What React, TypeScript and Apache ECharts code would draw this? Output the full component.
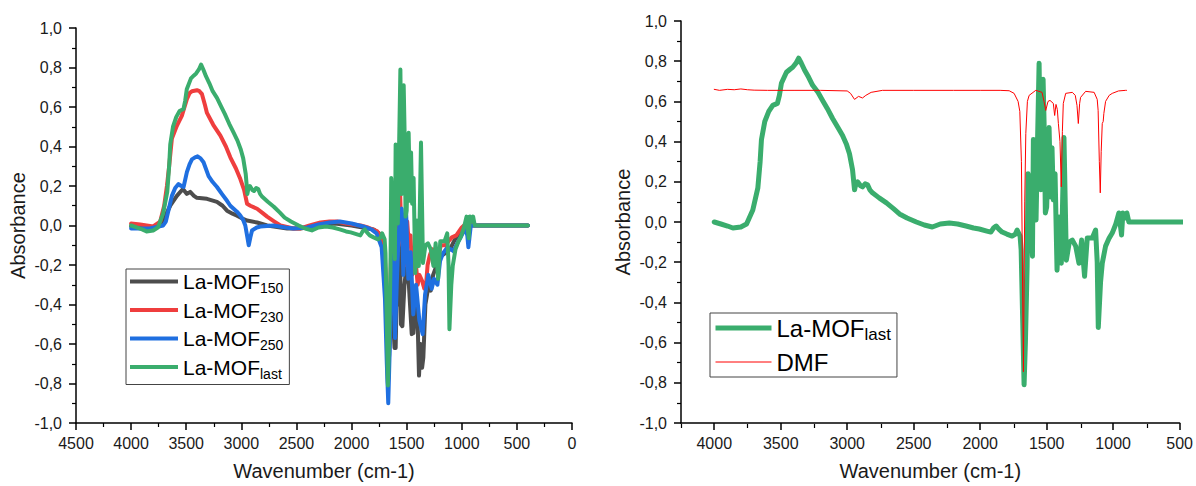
import React, { useEffect, useRef } from 'react';
import * as echarts from 'echarts';

type Pt = [number, number];

// La-MOF150 (dark grey)
const laMof150: Pt[] = [
  [4000, -0.005], [3900, -0.01], [3800, -0.01], [3740, 0.0], [3709, 0.02], [3680, 0.06], [3645, 0.1],
  [3585, 0.15], [3530, 0.185], [3494, 0.16], [3464, 0.17], [3430, 0.15], [3403, 0.14], [3312, 0.135],
  [3221, 0.12], [3170, 0.1], [3130, 0.075], [3080, 0.06], [3039, 0.05], [2990, 0.035], [2948, 0.025],
  [2857, 0.015], [2766, 0.0], [2584, -0.015], [2464, -0.015], [2300, 0.0], [2150, 0.01], [2000, 0.0],
  [1900, -0.01], [1800, -0.02], [1750, -0.04], [1720, -0.08], [1700, -0.15], [1685, -0.4], [1670, -0.8],
  [1655, -0.6], [1640, -0.3], [1625, -0.45], [1610, -0.62], [1600, -0.62], [1590, -0.35], [1570, -0.4],
  [1560, -0.1], [1552, -0.5], [1539, -0.51], [1520, -0.3], [1500, -0.2], [1480, -0.3], [1454, -0.55],
  [1439, -0.545], [1420, -0.4], [1400, -0.5], [1388, -0.76], [1375, -0.6], [1360, -0.72], [1349, -0.67],
  [1330, -0.4], [1300, -0.3], [1282, -0.33], [1260, -0.25], [1227, -0.2], [1200, -0.16], [1150, -0.14],
  [1106, -0.12], [1080, -0.09], [1061, -0.07], [1030, -0.05], [1000, -0.02], [960, 0.01], [924, 0.0],
  [900, 0.0], [400, 0.0],
];

// La-MOF230 (red)
const laMof230: Pt[] = [
  [4000, 0.01], [3918, 0.005], [3800, -0.005], [3736, 0.02], [3700, 0.1], [3675, 0.2], [3655, 0.3],
  [3630, 0.44], [3585, 0.505], [3540, 0.555], [3494, 0.64], [3470, 0.67], [3448, 0.68], [3403, 0.685],
  [3380, 0.68], [3357, 0.665], [3330, 0.61], [3312, 0.57], [3255, 0.51], [3190, 0.455], [3140, 0.4],
  [3100, 0.345], [3050, 0.29], [3009, 0.235], [2975, 0.18], [2948, 0.11], [2918, 0.1], [2857, 0.085],
  [2800, 0.06], [2766, 0.045], [2700, 0.02], [2645, 0.0], [2527, -0.015], [2464, -0.015], [2380, 0.0],
  [2282, 0.015], [2200, 0.02], [2130, 0.02], [2050, 0.01], [1918, 0.0], [1850, -0.01], [1767, -0.03],
  [1730, -0.06], [1700, -0.12], [1685, -0.35], [1668, -0.78], [1655, -0.5], [1640, -0.1], [1625, -0.3],
  [1610, -0.45], [1598, -0.3], [1585, -0.1], [1570, 0.05], [1560, 0.17], [1550, 0.0], [1540, -0.1],
  [1525, -0.05], [1510, -0.2], [1495, 0.02], [1480, -0.1], [1465, -0.05], [1450, -0.25], [1435, -0.15],
  [1420, -0.17], [1400, -0.3], [1385, -0.25], [1360, -0.28], [1340, -0.32], [1327, -0.32], [1310, -0.2],
  [1290, -0.15], [1270, -0.12], [1240, -0.13], [1210, -0.15], [1190, -0.1], [1150, -0.1], [1120, -0.08],
  [1090, -0.06], [1050, -0.05], [1000, -0.01], [960, 0.01], [940, -0.02], [920, 0.02], [890, 0.0],
  [400, 0.0],
];

// La-MOF250 (blue)
const laMof250: Pt[] = [
  [4000, -0.015], [3900, -0.015], [3827, -0.015], [3750, -0.005], [3709, 0.0], [3685, 0.02], [3664, 0.07],
  [3630, 0.15], [3600, 0.19], [3570, 0.21], [3545, 0.2], [3524, 0.195], [3494, 0.27], [3470, 0.31],
  [3448, 0.335], [3420, 0.345], [3397, 0.35], [3370, 0.34], [3343, 0.32], [3297, 0.25], [3260, 0.22],
  [3221, 0.195], [3170, 0.155], [3130, 0.125], [3100, 0.1], [3070, 0.085], [3040, 0.07], [3009, 0.05],
  [2985, 0.03], [2964, 0.0], [2945, -0.06], [2933, -0.1], [2918, -0.06], [2903, -0.025], [2860, -0.01],
  [2827, -0.005], [2709, 0.0], [2600, -0.01], [2527, -0.015], [2400, -0.01], [2300, 0.005], [2200, 0.015],
  [2106, 0.02], [2000, 0.01], [1894, -0.005], [1820, -0.02], [1773, -0.04], [1727, -0.11], [1697, -0.37],
  [1680, -0.7], [1667, -0.9], [1655, -0.65], [1645, -0.37], [1630, -0.2], [1621, -0.15], [1606, -0.57],
  [1590, -0.3], [1576, -0.09], [1560, 0.07], [1545, 0.085], [1530, -0.25], [1506, 0.085], [1485, -0.27],
  [1464, -0.135], [1440, -0.45], [1415, -0.3], [1385, -0.48], [1355, -0.55], [1333, -0.35], [1303, -0.25],
  [1273, -0.32], [1252, -0.27], [1221, -0.3], [1197, -0.18], [1170, -0.14], [1136, -0.115], [1100, -0.12],
  [1076, -0.13], [1040, -0.09], [1015, -0.065], [970, -0.015], [950, -0.05], [940, -0.11], [930, -0.06],
  [918, 0.0], [894, 0.0], [400, 0.0],
];

// La-MOF last (green) — same spectrum in both panels
const laMofLast: Pt[] = [
  [4000, 0.0], [3950, -0.01], [3900, -0.02], [3860, -0.03], [3800, -0.025], [3757, -0.01], [3710, 0.06],
  [3672, 0.17], [3655, 0.3], [3645, 0.41], [3620, 0.5], [3590, 0.55], [3560, 0.58], [3525, 0.59],
  [3510, 0.63], [3495, 0.69], [3457, 0.745], [3430, 0.76], [3410, 0.77], [3385, 0.79], [3365, 0.815],
  [3345, 0.79], [3320, 0.755], [3290, 0.72], [3260, 0.68], [3220, 0.645], [3185, 0.605], [3150, 0.565],
  [3110, 0.515], [3070, 0.47], [3035, 0.43], [3005, 0.385], [2983, 0.34], [2960, 0.26], [2945, 0.16],
  [2935, 0.19], [2922, 0.2], [2900, 0.18], [2885, 0.175], [2865, 0.19], [2847, 0.185], [2830, 0.16],
  [2810, 0.145], [2760, 0.12], [2705, 0.095], [2650, 0.065], [2607, 0.04], [2550, 0.02], [2480, 0.0],
  [2420, -0.015], [2360, -0.025], [2300, -0.01], [2232, -0.005], [2170, -0.01], [2107, -0.02],
  [2050, -0.03], [2007, -0.035], [1950, -0.045], [1920, -0.05], [1900, -0.03], [1880, -0.02],
  [1860, -0.035], [1835, -0.05], [1800, -0.06], [1760, -0.07], [1735, -0.06], [1722, -0.04],
  [1700, -0.07], [1692, -0.14], [1680, -0.5], [1670, -0.81], [1660, -0.6], [1647, -0.22], [1640, 0.24],
  [1628, 0.1], [1617, -0.02], [1607, -0.17], [1600, 0.41], [1590, 0.25], [1580, 0.01], [1570, 0.36],
  [1557, 0.79], [1545, 0.16], [1537, 0.5], [1527, 0.71], [1518, 0.45], [1510, 0.045], [1500, 0.075],
  [1482, 0.47], [1470, 0.125], [1460, 0.37], [1450, 0.11], [1437, 0.24], [1422, -0.24], [1407, 0.025],
  [1390, -0.205], [1370, 0.42], [1352, -0.19], [1330, -0.1], [1307, -0.09], [1282, -0.12],
  [1257, -0.205], [1237, -0.09], [1215, -0.27], [1195, -0.08], [1157, -0.08], [1132, -0.04],
  [1120, -0.2], [1112, -0.525], [1095, -0.3], [1082, -0.205], [1057, -0.12], [1030, -0.08],
  [1007, -0.055], [980, -0.01], [957, 0.045], [937, -0.065], [927, 0.045], [910, 0.02], [897, 0.045],
  [882, 0.0], [850, 0.0], [400, 0.0],
];

// DMF reference (thin red)
const dmf: Pt[] = [
  [4000, 0.66], [3960, 0.655], [3900, 0.66], [3850, 0.658], [3800, 0.662], [3750, 0.658], [3700, 0.656],
  [3600, 0.655], [3400, 0.655], [3200, 0.655], [3000, 0.652], [2975, 0.64], [2945, 0.61], [2915, 0.625],
  [2885, 0.617], [2860, 0.63], [2820, 0.645], [2735, 0.655], [2500, 0.655], [2200, 0.655], [2000, 0.655],
  [1850, 0.655], [1782, 0.653], [1745, 0.64], [1715, 0.6], [1702, 0.55], [1690, 0.3], [1675, -0.745],
  [1665, 0.1], [1657, 0.44], [1645, 0.6], [1632, 0.63], [1582, 0.655], [1535, 0.645], [1520, 0.6],
  [1507, 0.555], [1490, 0.6], [1475, 0.605], [1450, 0.59], [1440, 0.53], [1430, 0.585], [1420, 0.56],
  [1412, 0.49], [1400, 0.4], [1390, 0.175], [1382, 0.45], [1375, 0.59], [1357, 0.64], [1307, 0.645],
  [1285, 0.63], [1272, 0.58], [1262, 0.49], [1252, 0.59], [1245, 0.62], [1207, 0.65], [1143, 0.645],
  [1120, 0.61], [1113, 0.555], [1104, 0.3], [1097, 0.145], [1090, 0.35], [1082, 0.49], [1075, 0.5],
  [1070, 0.54], [1057, 0.6], [1030, 0.63], [1007, 0.64], [960, 0.652], [907, 0.655], [900, 0.655],
];

const yRange = { min: -1, max: 1, step: 0.2 };
const leftXRange = { min: 0, max: 4500, step: 500 };
const rightXRange = { min: 500, max: 4250 };
const rightXMajor = [4000, 3500, 3000, 2500, 2000, 1500, 1000, 500];
const rightXMinor = [4250, 3750, 3250, 2750, 2250, 1750, 1250, 750];

const legendParts: Record<string, [string, string]> = {
  'La-MOF150': ['La-MOF', '150'],
  'La-MOF230': ['La-MOF', '230'],
  'La-MOF250': ['La-MOF', '250'],
  'La-MOFlast': ['La-MOF', 'last'],
  DMF: ['DMF', ''],
};

const FONT = '"Liberation Sans", Arial, Helvetica, sans-serif';
const TXT = '#1a1a1a';
const C_BLACK = '#4d4d4d';
const C_RED = '#ef3e3e';
const C_BLUE = '#1f6fe0';
const C_GREEN = '#3aad6d';

const fmtY = (v: number) => (Math.abs(v) < 1e-9 ? '0,0' : v.toFixed(1).replace('.', ','));
const fmtX = (v: number) => String(Math.round(v));

function yAxisBase(gridIndex: number) {
  return {
    type: 'value' as const,
    gridIndex,
    min: yRange.min,
    max: yRange.max,
    interval: yRange.step,
    name: 'Absorbance',
    nameLocation: 'middle' as const,
    nameGap: 48,
    nameTextStyle: { fontSize: 20, color: TXT, fontFamily: FONT },
    axisLine: { show: true, onZero: false, lineStyle: { color: '#000', width: 1.5 } },
    axisTick: { show: true, length: 7, lineStyle: { color: '#000', width: 1.5 } },
    minorTick: { show: true, splitNumber: 2, length: 4, lineStyle: { color: '#000', width: 1.2 } },
    splitLine: { show: false },
    minorSplitLine: { show: false },
    axisLabel: { fontSize: 16, color: TXT, fontFamily: FONT, margin: 14, formatter: fmtY },
  };
}

const xNameStyle = { fontSize: 20, color: TXT, fontFamily: FONT };

function legendFormatter(name: string) {
  const p = legendParts[name] || [name, ''];
  return p[1] ? `{m|${p[0]}}{s|${p[1]}}` : `{m|${p[0]}}`;
}

export default function App() {
  const ref = useRef<HTMLDivElement>(null);
  useEffect(() => {
    if (!ref.current) return;
    const chart = echarts.init(ref.current, null, { renderer: 'svg' });
    const lineSeries = (name: string, data: Pt[], color: string, width: number, xi: number, yi: number) => ({
      type: 'line' as const,
      name,
      data,
      xAxisIndex: xi,
      yAxisIndex: yi,
      showSymbol: false,
      symbol: 'none',
      clip: true,
      lineStyle: { color, width, join: 'round', cap: 'round' },
      itemStyle: { color },
      emphasis: { disabled: true },
    });
    chart.setOption({
      animation: false,
      textStyle: { fontFamily: FONT },
      grid: [
        { left: 76, top: 28, width: 496, height: 397 },
        { left: 681, top: 21, width: 500, height: 403 },
        { left: 681, top: 21, width: 500, height: 403 },
      ],
      xAxis: [
        {
          type: 'value',
          gridIndex: 0,
          min: leftXRange.min,
          max: leftXRange.max,
          interval: leftXRange.step,
          inverse: true,
          name: 'Wavenumber (cm-1)',
          nameLocation: 'middle',
          nameGap: 38,
          nameTextStyle: xNameStyle,
          axisLine: { show: true, onZero: false, lineStyle: { color: '#000', width: 1.5 } },
          axisTick: { show: true, length: 7, lineStyle: { color: '#000', width: 1.5 } },
          minorTick: { show: true, splitNumber: 2, length: 4, lineStyle: { color: '#000', width: 1.2 } },
          splitLine: { show: false },
          axisLabel: { fontSize: 16, color: TXT, fontFamily: FONT, margin: 12, formatter: fmtX, showMinLabel: true, showMaxLabel: true },
        },
        {
          type: 'value',
          gridIndex: 1,
          min: rightXRange.min,
          max: rightXRange.max,
          inverse: true,
          name: 'Wavenumber (cm-1)',
          nameLocation: 'middle',
          nameGap: 38,
          nameTextStyle: xNameStyle,
          axisLine: { show: true, onZero: false, lineStyle: { color: '#000', width: 1.5 } },
          axisTick: { show: true, length: 7, customValues: rightXMajor, lineStyle: { color: '#000', width: 1.5 } },
          splitLine: { show: false },
          axisLabel: { fontSize: 16, color: TXT, fontFamily: FONT, margin: 12, formatter: fmtX, customValues: rightXMajor },
        },
        {
          type: 'value',
          gridIndex: 2,
          min: rightXRange.min,
          max: rightXRange.max,
          inverse: true,
          axisLine: { show: false, onZero: false },
          axisTick: { show: true, length: 4, customValues: rightXMinor, lineStyle: { color: '#000', width: 1.2 } },
          splitLine: { show: false },
          axisLabel: { show: false },
        },
      ],
      yAxis: [
        yAxisBase(0),
        yAxisBase(1),
        { type: 'value', gridIndex: 2, min: -1, max: 1, show: false, splitLine: { show: false } },
      ],
      legend: [
        {
          orient: 'vertical',
          left: 126,
          top: 269,
          padding: [2, 6, 4, 2],
          itemGap: 4.5,
          itemWidth: 48,
          itemHeight: 14,
          borderColor: '#444',
          borderWidth: 1,
          selectedMode: false,
          itemStyle: { opacity: 0 },
          lineStyle: { width: 4, cap: 'butt' },
          data: ['La-MOF150', 'La-MOF230', 'La-MOF250', 'La-MOFlast'],
          formatter: legendFormatter,
          textStyle: {
            color: '#000',
            fontFamily: FONT,
            rich: {
              m: { fontSize: 21, lineHeight: 27, color: '#000', fontFamily: FONT },
              s: { fontSize: 14, lineHeight: 27, color: '#000', fontFamily: FONT, verticalAlign: 'bottom' },
            },
          },
        },
        {
          orient: 'vertical',
          left: 710,
          top: 313,
          padding: [3, 6, 3, 3],
          itemGap: 7,
          itemWidth: 56,
          itemHeight: 14,
          borderColor: '#444',
          borderWidth: 1,
          selectedMode: false,
          itemStyle: { opacity: 0 },
          data: [
            { name: 'La-MOFlast', lineStyle: { width: 5, cap: 'butt' } },
            { name: 'DMF', lineStyle: { width: 1, cap: 'butt' } },
          ],
          formatter: legendFormatter,
          textStyle: {
            color: '#000',
            fontFamily: FONT,
            rich: {
              m: { fontSize: 24, lineHeight: 30, color: '#000', fontFamily: FONT },
              s: { fontSize: 17, lineHeight: 30, color: '#000', fontFamily: FONT, verticalAlign: 'bottom' },
            },
          },
        },
      ],
      series: [
        lineSeries('La-MOF150', laMof150, C_BLACK, 4, 0, 0),
        lineSeries('La-MOF230', laMof230, C_RED, 4, 0, 0),
        lineSeries('La-MOF250', laMof250, C_BLUE, 4, 0, 0),
        lineSeries('La-MOFlast', laMofLast, C_GREEN, 4, 0, 0),
        lineSeries('La-MOFlast', laMofLast, C_GREEN, 5, 1, 1),
        lineSeries('DMF', dmf, '#ff0000', 1, 1, 1),
      ],
    });
    return () => chart.dispose();
  }, []);
  return <div ref={ref} style={{ position: 'absolute', left: 0, top: 0, width: 1196, height: 486 }} />;
}
